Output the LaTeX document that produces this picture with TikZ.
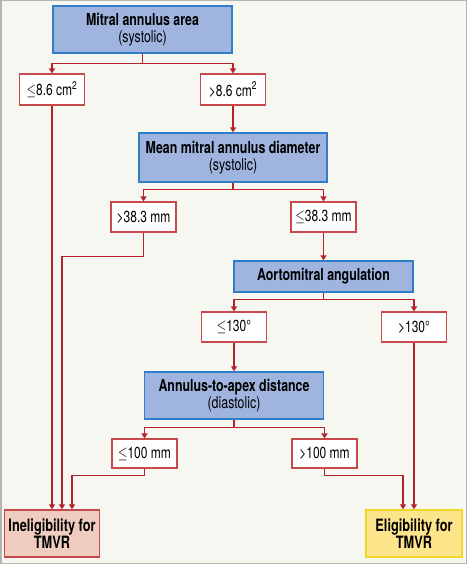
\documentclass[tikz,border=0pt]{standalone}
\usepackage{fontspec}
\setmainfont{TeX Gyre Heros}[FakeStretch=0.75]
\usepackage{tikz}
\usetikzlibrary{arrows.meta}
\definecolor{paper}{HTML}{F7F7F2}
\definecolor{frame}{HTML}{B4B4B0}
\definecolor{qfill}{HTML}{9FB4DF}
\definecolor{qline}{HTML}{2F7EC7}
\definecolor{rline}{HTML}{B5242A}
\definecolor{rbox}{HTML}{C8494B}
\definecolor{nofill}{HTML}{EECDC0}
\definecolor{yesfill}{HTML}{FDE58C}
\definecolor{yesline}{HTML}{F2D826}
\newcommand{\lesym}{\scalebox{0.7}[0.95]{$\leq$}}
\tikzset{
	question/.style={rectangle, draw=qline, fill=qfill, line width=1.4pt, align=center, font=\fontsize{16.5}{17}\selectfont, inner sep=0pt},
	cutoff/.style={rectangle, draw=rbox, fill=white, line width=1.1pt, font=\fontsize{16}{17}\selectfont, minimum width=65pt, minimum height=30pt, inner sep=0pt},
	outcome/.style={rectangle, line width=1.4pt, align=center, font=\bfseries\fontsize{17}{17}\selectfont, minimum width=95pt, minimum height=47pt, inner sep=0pt},
	link/.style={draw=rline, line width=1.3pt, -{Triangle[length=5pt,width=6pt]}}
}

\begin{document}
\begin{tikzpicture}[x=1pt,y=-1pt]
	\fill[paper] (0,0) rectangle (467,564);
	\draw[frame, line width=1.5pt] (0.75,0.75) rectangle (466.25,563.25);
	\useasboundingbox (0,0) rectangle (467,564);
	
	% questions
	\node[question, minimum width=179pt, minimum height=47pt] (area) at (142.5,29.5) {\textbf{Mitral annulus area}\\(systolic)};
	\node[question, minimum width=188pt, minimum height=49pt] (diam) at (233,157.5) {\textbf{Mean mitral annulus diameter}\\(systolic)};
	\node[question, minimum width=179pt, minimum height=31pt] (angle) at (323.5,276.5) {\textbf{Aortomitral angulation}};
	\node[question, minimum width=179pt, minimum height=47pt] (apex) at (234,395.5) {\textbf{Annulus-to-apex distance}\\(diastolic)};
	
	% cut-off values
	\node[cutoff, minimum height=31pt] (le86) at (52,89.5) {\lesym8.6 cm\textsuperscript{2}};
	\node[cutoff, minimum height=31pt] (gt86) at (233,89.5) {>8.6 cm\textsuperscript{2}};
	\node[cutoff] (gt383) at (143.5,217) {>38.3 mm};
	\node[cutoff] (le383) at (323.5,217) {\lesym38.3 mm};
	\node[cutoff] (le130) at (234,327) {\lesym130°};
	\node[cutoff] (gt130) at (414,327) {>130°};
	\node[cutoff, minimum height=29pt] (le100) at (144.5,453.5) {\lesym100 mm};
	\node[cutoff, minimum height=29pt] (gt100) at (324.5,453.5) {>100 mm};
	
	% outcomes
	\node[outcome, draw=rbox, fill=nofill] (inel) at (52,533.5) {Ineligibility for\\TMVR};
	\node[outcome, draw=yesline, fill=yesfill, minimum width=96pt] (elig) at (414,533.5) {Eligibility for\\TMVR};
	
	% branches
	\draw[link] (area.south) -- ++(0,10) -| (le86.north);
	\draw[link] (area.south) -- ++(0,10) -| (gt86.north);
	\draw[link] (gt86.south) -- (diam.north);
	\draw[link] (diam.south) -- ++(0,7) -| (gt383.north);
	\draw[link] (diam.south) -- ++(0,7) -| (le383.north);
	\draw[link] (le383.south) -- (angle.north);
	\draw[link] (angle.south) -- ++(0,7) -| (le130.north);
	\draw[link] (angle.south) -- ++(0,7) -| (gt130.north);
	\draw[link] (le130.south) -- (apex.north);
	\draw[link] (apex.south) -- ++(0,8) -| (le100.north);
	\draw[link] (apex.south) -- ++(0,8) -| (gt100.north);
	
	% to the outcomes
	\draw[link] (le86.south) -- (inel.north);
	\draw[link] (gt383.south) -- ++(0,24) -| ([xshift=10pt]inel.north);
	\draw[link] (le100.south) -- ++(0,7) -| ([xshift=20pt]inel.north);
	\draw[link] (gt100.south) -- ++(0,7) -| ([xshift=-11pt]elig.north);
	\draw[link] (gt130.south) -- (elig.north);
\end{tikzpicture}
\end{document}
